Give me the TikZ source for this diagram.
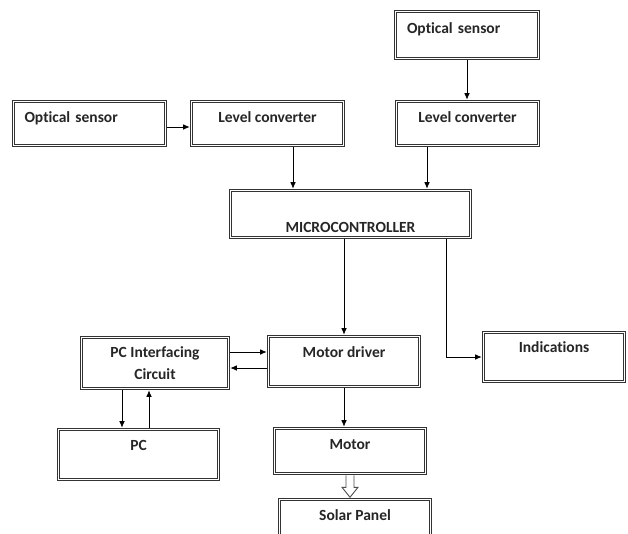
\documentclass[tikz,border=0pt]{standalone}
\usepackage{fontspec}
\setmainfont{Carlito}[Ligatures=CommonOff]
\usetikzlibrary{arrows.meta,calc}

\tikzset{
  blk/.style={draw=black!80, double, double distance=1.8pt, line width=0.9pt, outer sep=1.8pt, inner sep=0pt, font=\fontsize{15.5}{22}\selectfont\bfseries, text=black!85},
  arr/.style={-{Latex[length=6.5pt,width=5.5pt]}, line width=0.8pt},
  hollow/.style={draw=black!70, line width=0.9pt, fill=white}
}

\begin{document}
\begin{tikzpicture}[x=1pt,y=-1pt]
                \useasboundingbox (0,0) rectangle (628,533);
                \node[blk, minimum width=152, minimum height=44, text width=130, align=left, text height=10pt, text depth=13pt] (os1) at (89.5,123.5) {Optical sensor};
                \node[blk, minimum width=152, minimum height=44, text height=10pt, text depth=13pt] (lc1) at (267.5,123.5) {Level converter};
                \node[blk, minimum width=143, minimum height=47, text width=120, align=left, text height=10pt, text depth=13.5pt] (os2) at (467,35) {Optical sensor};
                \node[blk, minimum width=142, minimum height=44, text height=10pt, text depth=13pt] (lc2) at (467.5,123.5) {Level converter};
                \node[blk, minimum width=240, minimum height=47, text height=38pt, text depth=2pt] (mc) at (350.5,214) {MICROCONTROLLER};
                \node[blk, minimum width=141, minimum height=49, text height=10pt, text depth=18.6pt] (ind) at (554,357) {Indications};
                \node[blk, minimum width=151, minimum height=50, text height=10pt, text depth=18.4pt] (md) at (344,361.5) {Motor driver};
                \node[blk, minimum width=147, minimum height=51, align=center] (pci) at (155,363) {PC Interfacing\\Circuit};
                \node[blk, minimum width=160, minimum height=50, text height=10pt, text depth=19pt] (pc) at (138.5,454.5) {PC};
                \node[blk, minimum width=151, minimum height=45, text height=10pt, text depth=14pt] (motor) at (350,451) {Motor};
                \node[blk, minimum width=151, minimum height=49, text height=10pt, text depth=16.6pt] (sp) at (355,524) {Solar Panel};

                \draw[arr] ([yshift=-3.5pt]os1.east) -- ([yshift=-3.5pt]lc1.west);
                \draw[arr] (os2.south) -- (os2.south |- lc2.north);
                \draw[arr] ([xshift=25.5pt]lc1.south) -- ([xshift=25.5pt]lc1.south |- mc.north);
                \draw[arr] ([xshift=-40.5pt]lc2.south) -- ([xshift=-40.5pt]lc2.south |- mc.north);
                \draw[arr] (mc.south -| md.north) -- (md.north);
                \draw[arr] ([xshift=95.5pt]mc.south) |- (ind.west);
                \draw[arr] ([yshift=11pt]pci.east) -- ([yshift=11pt]pci.east -| md.west);
                \draw[arr] ([yshift=-5pt]pci.east -| md.west) -- ([yshift=-5pt]pci.east);
                \draw[arr] ([xshift=-33pt]pci.south) -- ([xshift=-33pt]pci.south |- pc.north);
                \draw[arr] ([xshift=-6pt]pci.south |- pc.north) -- ([xshift=-6pt]pci.south);
                \draw[arr] (md.south) -- (md.south |- motor.north);
                \draw[hollow] ($(motor.south)+(-4,0)$) -- ++(0,12) -- ++(-4,0) -- ($(motor.south)+(0,22)$)
                    -- ($(motor.south)+(8,12)$) -- ++(-4,0) -- ($(motor.south)+(4,0)$);
\end{tikzpicture}
\end{document}
